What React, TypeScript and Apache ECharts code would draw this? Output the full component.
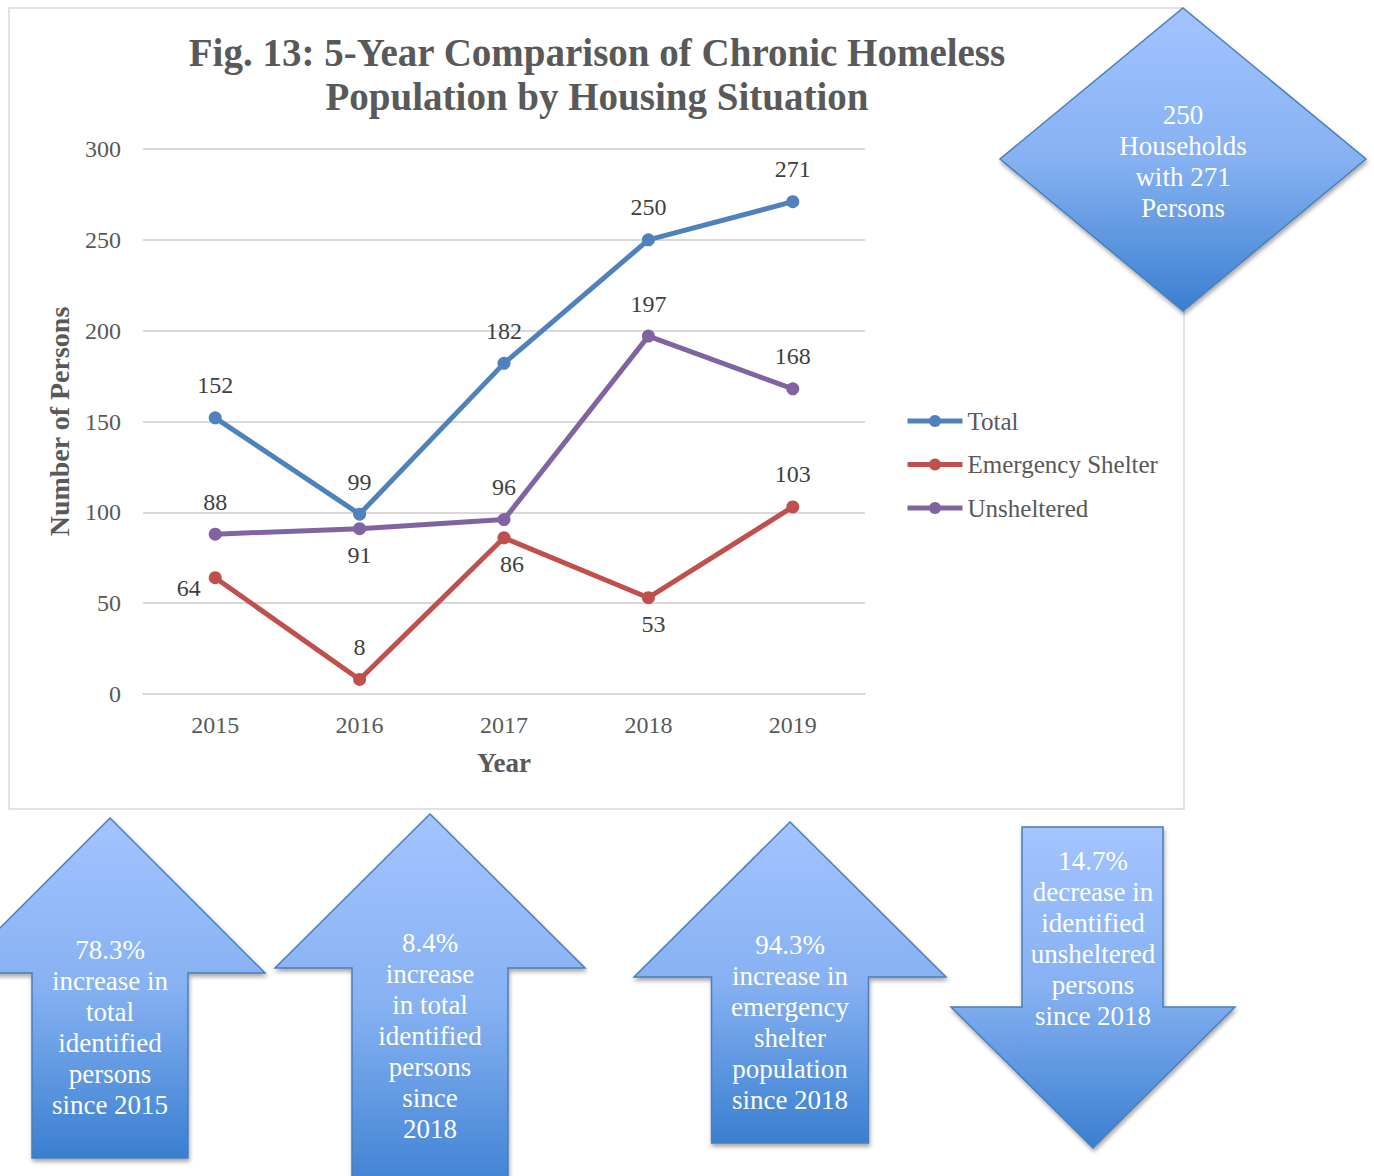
import React, { useEffect, useRef } from "react";
import * as echarts from "echarts";

const years = ["2015", "2016", "2017", "2018", "2019"];
const total = [152, 99, 182, 250, 271];
const emergency = [64, 8, 86, 53, 103];
const unsheltered = [88, 91, 96, 197, 168];
const yMin = 0;
const yMax = 300;
const yStep = 50;

const totalLabelPos = ["top", "top", "top", "top", "top"];
const emergencyLabelPos = ["left", "top", "bottom", "bottom", "top"];
const emergencyLabelShift = [[0, 10], [0, 0], [8, 0], [5, 0], [0, 0]];
const unshelteredLabelPos = ["top", "bottom", "top", "top", "top"];

const titleText = "Fig. 13: 5-Year Comparison of Chronic Homeless\nPopulation by Housing Situation";
const diamondText = "250\nHouseholds\nwith 271\nPersons";
const arrow1Text = "78.3%\nincrease in\ntotal\nidentified\npersons\nsince 2015";
const arrow2Text = "8.4%\nincrease\nin total\nidentified\npersons\nsince\n2018";
const arrow3Text = "94.3%\nincrease in\nemergency\nshelter\npopulation\nsince 2018";
const arrow4Text = "14.7%\ndecrease in\nidentified\nunsheltered\npersons\nsince 2018";

const SERIF = '"Liberation Serif", "Times New Roman", serif';

const grad = {
  type: "linear",
  x: 0,
  y: 0,
  x2: 0,
  y2: 1,
  colorStops: [
    { offset: 0, color: "#A3C4FF" },
    { offset: 0.5, color: "#86B1F2" },
    { offset: 1, color: "#3A7FD0" },
  ],
};

const shapeStyle = {
  fill: grad,
  stroke: "#4A7EBB",
  lineWidth: 1.5,
  shadowColor: "rgba(0,0,0,0.35)",
  shadowBlur: 4,
  shadowOffsetX: 1,
  shadowOffsetY: 3,
};

function shapeText(text: string, cx: number, firstLineCenter: number) {
  return {
    type: "text",
    x: cx,
    y: firstLineCenter - 15.5,
    z: 20,
    style: {
      text,
      fill: "#FFFFFF",
      fontSize: 27,
      fontFamily: SERIF,
      align: "center",
      verticalAlign: "top",
      lineHeight: 31,
    },
  };
}

function upArrow(cx: number, tipY: number, headY: number, headHalf: number, shaftHalf: number, bottom: number) {
  return {
    type: "polygon",
    z: 10,
    shape: {
      points: [
        [cx, tipY],
        [cx + headHalf, headY],
        [cx + shaftHalf, headY],
        [cx + shaftHalf, bottom],
        [cx - shaftHalf, bottom],
        [cx - shaftHalf, headY],
        [cx - headHalf, headY],
      ],
    },
    style: shapeStyle,
  };
}

function buildData(values: number[], pos: string[], shift?: number[][]) {
  return values.map((v, i) => ({
    value: v,
    label: {
      position: pos[i],
      distance: pos[i] === "bottom" ? 8 : pos[i] === "left" ? 8 : 14,
      offset: shift ? shift[i] : [0, 0],
    },
  }));
}

export default function App() {
  const ref = useRef<HTMLDivElement>(null);
  useEffect(() => {
    if (!ref.current) return;
    const chart = echarts.init(ref.current, null, { renderer: "svg" });
    const labelCommon = {
      show: true,
      color: "#404040",
      fontSize: 24,
      fontFamily: SERIF,
    };
    const mkSeries = (name: string, color: string, data: any[]) => ({
      name,
      type: "line",
      data,
      symbol: "circle",
      symbolSize: 13,
      itemStyle: { color },
      lineStyle: { color, width: 5 },
      label: labelCommon,
    });
    chart.setOption({
      animation: false,
      backgroundColor: "#FFFFFF",
      title: {
        text: titleText,
        left: 597,
        top: 30,
        padding: 0,
        textAlign: "center",
        textStyle: {
          color: "#595959",
          fontSize: 39,
          fontWeight: "bold",
          fontFamily: SERIF,
          lineHeight: 44,
        },
      },
      grid: { left: 143, right: 509, top: 149, bottom: 482 },
      legend: {
        orient: "vertical",
        left: 905,
        top: 408,
        padding: 0,
        itemWidth: 55,
        itemHeight: 15,
        itemGap: 17.5,
        lineStyle: { width: 5 },
        textStyle: { color: "#595959", fontSize: 25, fontFamily: SERIF, lineHeight: 26 },
        data: ["Total", "Emergency Shelter", "Unsheltered"],
      },
      xAxis: {
        type: "category",
        data: years,
        boundaryGap: true,
        name: "Year",
        nameLocation: "middle",
        nameGap: 55,
        nameTextStyle: { color: "#595959", fontSize: 27, fontWeight: "bold", fontFamily: SERIF },
        axisLine: { lineStyle: { color: "#D9D9D9", width: 2 } },
        axisTick: { show: false },
        axisLabel: { color: "#595959", fontSize: 24, fontFamily: SERIF, margin: 19 },
      },
      yAxis: {
        type: "value",
        min: yMin,
        max: yMax,
        interval: yStep,
        name: "Number of Persons",
        nameLocation: "middle",
        nameGap: 70,
        nameTextStyle: { color: "#595959", fontSize: 28, fontWeight: "bold", fontFamily: SERIF },
        axisLine: { show: false },
        axisTick: { show: false },
        axisLabel: { color: "#595959", fontSize: 24, fontFamily: SERIF, margin: 22 },
        splitLine: { lineStyle: { color: "#D9D9D9", width: 2 } },
      },
      series: [
        mkSeries("Total", "#4F81BD", buildData(total, totalLabelPos)),
        mkSeries("Emergency Shelter", "#C0504D", buildData(emergency, emergencyLabelPos, emergencyLabelShift)),
        mkSeries("Unsheltered", "#8064A2", buildData(unsheltered, unshelteredLabelPos)),
      ],
      graphic: [
        {
          type: "rect",
          z: -10,
          silent: true,
          shape: { x: 9, y: 8, width: 1175, height: 801 },
          style: { fill: "none", stroke: "#D9D9D9", lineWidth: 1.5 },
        },
        {
          type: "polygon",
          z: 10,
          shape: { points: [[1183, 8], [1366, 159], [1183, 311], [1000, 159]] },
          style: shapeStyle,
        },
        shapeText(diamondText, 1183, 115),
        upArrow(110, 818, 973, 155, 78, 1158),
        shapeText(arrow1Text, 110, 950),
        upArrow(430, 814, 968, 155, 78, 1200),
        shapeText(arrow2Text, 430, 943),
        upArrow(790, 822, 977, 156, 78.5, 1143),
        shapeText(arrow3Text, 790, 945),
        {
          type: "polygon",
          z: 10,
          shape: {
            points: [
              [1022, 827],
              [1163, 827],
              [1163, 1007],
              [1235, 1007],
              [1093, 1148],
              [951, 1007],
              [1022, 1007],
            ],
          },
          style: shapeStyle,
        },
        shapeText(arrow4Text, 1093, 861),
      ],
    });
    return () => chart.dispose();
  }, []);
  return (
    <div
      ref={ref}
      style={{ position: "absolute", left: 0, top: 0, width: 1374, height: 1176 }}
    />
  );
}
